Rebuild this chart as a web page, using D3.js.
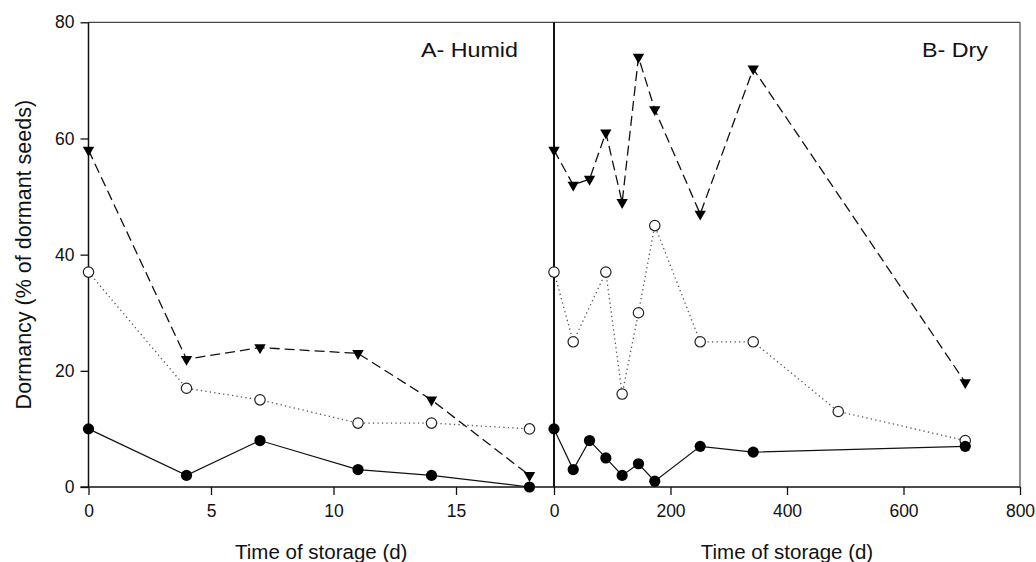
<!DOCTYPE html>
<html>
<head>
<meta charset="utf-8">
<script src="https://cdn.jsdelivr.net/npm/d3@7"></script>
<style>
  html, body { margin: 0; padding: 0; background: #fff; }
  svg { display: block; }
  text { font-family: "Liberation Sans", Arial, sans-serif; fill: #111; }
</style>
</head>
<body>
<svg id="chart" width="1036" height="562"></svg>
<script>
// ---- Data ----
const humidDays   = [0, 4, 7, 11, 14, 18];
const humidFilled = [10, 2, 8, 3, 2, 0];
const humidOpen   = [37, 17, 15, 11, 11, 10];
const humidTri    = [58, 22, 24, 23, 15, 2];

const dryDaysFilled = [0, 33, 61, 89, 117, 145, 173, 251, 342, 706];
const dryFilled     = [10, 3, 8, 5, 2, 4, 1, 7, 6, 7];
const dryDaysOpen   = [0, 33, 89, 117, 145, 173, 251, 342, 488, 706];
const dryOpen       = [37, 25, 37, 16, 30, 45, 25, 25, 13, 8];
const dryDaysTri    = [0, 33, 61, 89, 117, 145, 173, 251, 342, 706];
const dryTri        = [58, 52, 53, 61, 49, 74, 65, 47, 72, 18];

const yTicks = [0, 20, 40, 60, 80];
const humidTicks = [0, 5, 10, 15];
const dryTicks = [0, 200, 400, 600, 800];

const panelTitles = ["A- Humid", "B- Dry"];
const yLabel = "Dormancy (% of dormant seeds)";
const xLabel = "Time of storage (d)";

// ---- Layout ----
const svg = d3.select("#chart");
const yTop = 22.3, yBottom = 487;
const xA = d3.scaleLinear().domain([0, 19]).range([88.5, 554]);
const xB = d3.scaleLinear().domain([0, 800]).range([554, 1020]);
const y = d3.scaleLinear().domain([0, 80]).range([yBottom, yTop]);

// frame: top & right borders
svg.append("line").attr("x1", 88.5).attr("x2", 1020).attr("y1", yTop).attr("y2", yTop)
  .attr("stroke", "#444").attr("stroke-width", 1.3);
svg.append("line").attr("x1", 1020).attr("x2", 1020).attr("y1", yTop).attr("y2", yBottom)
  .attr("stroke", "#555").attr("stroke-width", 1.3);

// axes
const tickFont = "17.5px";
const gy = svg.append("g").attr("transform", `translate(${xA(0)},0)`)
  .call(d3.axisLeft(y).tickValues(yTicks).tickSize(8).tickPadding(6).tickFormat(d3.format("d")));
const gxA = svg.append("g").attr("transform", `translate(0,${yBottom})`)
  .call(d3.axisBottom(xA).tickValues(humidTicks).tickSize(8).tickPadding(10).tickFormat(d3.format("d")));
const gxB = svg.append("g").attr("transform", `translate(0,${yBottom})`)
  .call(d3.axisBottom(xB).tickValues(dryTicks).tickSize(8).tickPadding(10).tickFormat(d3.format("d")));
[gy, gxA, gxB].forEach(g => {
  g.select(".domain").attr("stroke", "#111").attr("stroke-width", 1.5);
  g.selectAll(".tick line").attr("stroke", "#111").attr("stroke-width", 1.3);
  g.selectAll(".tick text").attr("font-size", tickFont).attr("fill", "#222")
    .attr("font-family", "Liberation Sans, Arial, sans-serif");
});
gy.select(".domain").attr("d", `M0,${yBottom}V${yTop}`);
gxA.select(".domain").attr("d", `M${xA(0) - 8},0H${xA(19)}`);
gxB.select(".domain").attr("d", `M${xB(0)},0H${xB(800)}`);

// separator (y axis of panel B)
svg.append("line").attr("x1", xB(0)).attr("x2", xB(0)).attr("y1", yTop).attr("y2", yBottom)
  .attr("stroke", "#111").attr("stroke-width", 2);

// ---- Series ----
function series(xs, days, vals, style) {
  const pts = days.map((d, i) => [xs(d), y(vals[i])]);
  svg.append("path").attr("d", d3.line()(pts)).attr("fill", "none")
    .attr("stroke", style.stroke).attr("stroke-width", style.width)
    .attr("stroke-dasharray", style.dash || null);
  return pts;
}
function markers(pts, kind) {
  const g = svg.append("g");
  pts.forEach(p => {
    if (kind === "filled") {
      g.append("circle").attr("cx", p[0]).attr("cy", p[1]).attr("r", 5.6).attr("fill", "#000");
    } else if (kind === "open") {
      g.append("circle").attr("cx", p[0]).attr("cy", p[1]).attr("r", 5.2)
        .attr("fill", "#fff").attr("stroke", "#222").attr("stroke-width", 1.2);
    } else {
      g.append("path").attr("d", d3.symbol(d3.symbolTriangle, 56)())
        .attr("transform", `translate(${p[0]},${p[1]}) rotate(180)`).attr("fill", "#000");
    }
  });
}
const solid = { stroke: "#111", width: 1.2 };
const dotted = { stroke: "#555", width: 1.3, dash: "1.3,3.2" };
const dashed = { stroke: "#111", width: 1.3, dash: "10,5" };

const pAF = series(xA, humidDays, humidFilled, solid);
const pAO = series(xA, humidDays, humidOpen, dotted);
const pAT = series(xA, humidDays, humidTri, dashed);
const pBF = series(xB, dryDaysFilled, dryFilled, solid);
const pBO = series(xB, dryDaysOpen, dryOpen, dotted);
const pBT = series(xB, dryDaysTri, dryTri, dashed);

markers(pAT, "tri"); markers(pBT, "tri");
markers(pAO, "open"); markers(pBO, "open");
markers(pAF, "filled"); markers(pBF, "filled");

// ---- Text ----
svg.append("text").attr("x", 518).attr("y", 57.3).attr("text-anchor", "end")
  .attr("font-size", "21px").attr("textLength", 97).attr("lengthAdjust", "spacingAndGlyphs")
  .text(panelTitles[0]);
svg.append("text").attr("x", 988).attr("y", 57.3).attr("text-anchor", "end")
  .attr("font-size", "21px").attr("textLength", 66).attr("lengthAdjust", "spacingAndGlyphs")
  .text(panelTitles[1]);

svg.append("text").attr("transform", `translate(31,${(yTop + yBottom) / 2}) rotate(-90)`)
  .attr("text-anchor", "middle").attr("font-size", "21.5px").text(yLabel);
svg.append("text").attr("x", (xA(0) + xA(19)) / 2).attr("y", 558.5)
  .attr("text-anchor", "middle").attr("font-size", "20.5px").text(xLabel);
svg.append("text").attr("x", (xB(0) + xB(800)) / 2).attr("y", 558.5)
  .attr("text-anchor", "middle").attr("font-size", "20.5px").text(xLabel);
</script>
</body>
</html>
